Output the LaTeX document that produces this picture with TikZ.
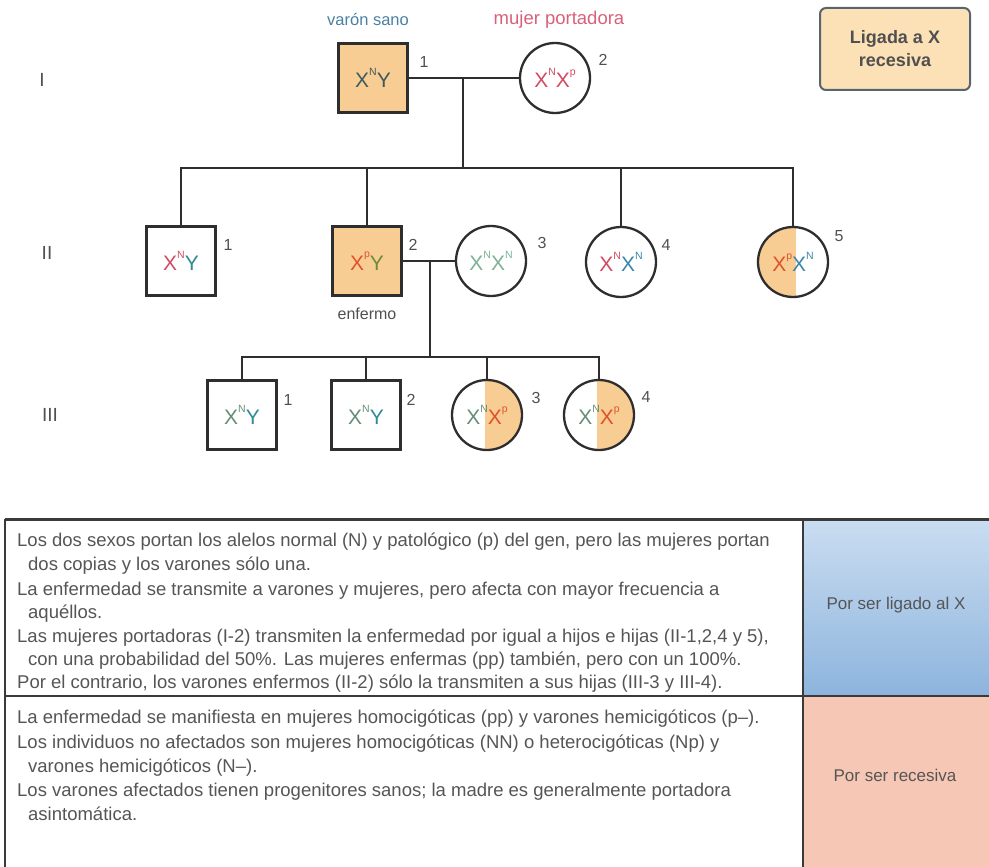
\documentclass[tikz,border=0pt]{standalone}
\usepackage{fontspec}
\setmainfont{Liberation Sans}
\usetikzlibrary{calc}
\definecolor{linec}{HTML}{2E2E2E}
\definecolor{affc}{HTML}{F8CD93}
\definecolor{numc}{HTML}{505050}
\definecolor{txtc}{HTML}{555555}
\definecolor{xred}{HTML}{D24A62}
\definecolor{xorange}{HTML}{E0522C}
\definecolor{xteal}{HTML}{2F8A96}
\definecolor{xblue}{HTML}{3A86A8}
\definecolor{xgreen}{HTML}{7DB295}
\definecolor{xolive}{HTML}{6E8A3C}
\definecolor{xdark}{HTML}{3F5A5E}
\definecolor{sanoc}{HTML}{4A80A4}
\definecolor{portc}{HTML}{D9607A}
\definecolor{legfill}{HTML}{FCE0B6}
\definecolor{legdraw}{HTML}{56666C}
\definecolor{blueTop}{HTML}{CADDF1}
\definecolor{blueBot}{HTML}{8DB4DD}
\definecolor{salmon}{HTML}{F6C7B5}
\definecolor{tabline}{HTML}{3A3A3A}
\newcommand\gsup[1]{\raisebox{0.6em}{\fontsize{10.5}{10.5}\selectfont #1}}
\begin{document}
\begin{tikzpicture}[x=1pt,y=-1pt,
  male/.style={rectangle,draw=linec,line width=2.3pt,minimum size=69pt,inner sep=0pt,
     font=\fontsize{21}{21}\selectfont},
  female/.style={circle,draw=linec,line width=2.3pt,minimum size=70pt,inner sep=0pt,
     font=\fontsize{21}{21}\selectfont},
  aff/.style={fill=affc},
  lefthalf/.style={path picture={\fill[affc] (path picture bounding box.north west) rectangle ([xshift=3pt]path picture bounding box.south);}},
  righthalf/.style={path picture={\fill[affc] ([xshift=-2pt]path picture bounding box.north) rectangle (path picture bounding box.south east);}},
  conn/.style={draw=linec,line width=2.3pt},
  num/.style={font=\fontsize{16}{16}\selectfont,text=numc},
  genlab/.style={font=\fontsize{19}{19}\selectfont,text=numc},
  tline/.style={anchor=base west,font=\fontsize{18.5}{18.5}\selectfont,text=txtc,inner sep=0pt},
  cellt/.style={font=\fontsize{17}{17}\selectfont,text=txtc}]
\useasboundingbox (0,0) rectangle (989,867);

% table backgrounds
\shade[top color=blueTop,bottom color=blueBot] (803,519) rectangle (989,696);
\fill[salmon] (803,696) rectangle (989,867);
\draw[tabline,line width=3pt] (5,519) -- (989,519);
\draw[tabline,line width=2.5pt] (5,696) -- (989,696);
\draw[tabline,line width=1.5pt] (5,519) -- (5,867);
\draw[tabline,line width=1.5pt] (803,519) -- (803,867);

% generation labels
\node[genlab] (gI) at (42,80) {I};
\node[genlab] (gII) at (47,253) {II};
\node[genlab] (gIII) at (50,415) {III};

% headers
\node[font=\fontsize{16.5}{16.5}\selectfont,text=sanoc] (hsano) at (368,20) {varón sano};
\node[font=\fontsize{18.5}{18.5}\selectfont,text=portc] (hport) at (559,20) {mujer portadora};

% legend box
\node[draw=legdraw,line width=2pt,fill=legfill,rounded corners=6pt,minimum width=150pt,minimum height=82pt,
      align=center,font=\fontsize{18}{23}\selectfont\bfseries,text=numc] (leg) at (895,49) {Ligada a X\\recesiva};

% generation I
\node[male,aff] (I1) at (373,78) {{\color{xdark}X\gsup{N}Y}};
\node[female] (I2) at (555,78) {{\color{xred}X\gsup{N}X\gsup{p}}};
\node[num] (nI1) at (424,62) {1};
\node[num] (nI2) at (603,60) {2};

% generation II
\node[male] (II1) at (181,261) {{\color{xred}X\gsup{N}}{\color{xteal}Y}};
\node[male,aff] (II2) at (367,261) {{\color{xorange}X\gsup{p}}{\color{xolive}Y}};
\node[female] (II3) at (491,261) {{\color{xgreen}X\gsup{N}X\gsup{N}}};
\node[female] (II4) at (621,262) {{\color{xred}X\gsup{N}}{\color{xblue}X\gsup{N}}};
\node[female,lefthalf] (II5) at (793,262) {{\color{xorange}X\gsup{p}}{\color{xblue}X\gsup{N}}};
\node[num] (nII1) at (228,245) {1};
\node[num] (nII2) at (413,245) {2};
\node[num] (nII3) at (542,243) {3};
\node[num] (nII4) at (666,245) {4};
\node[num] (nII5) at (839,236) {5};
\node[font=\fontsize{16}{16}\selectfont,text=numc] (enf) at (367,314) {enfermo};

% generation III
\node[male] (III1) at (242,415) {{\color{xgreen!80!black}X\gsup{N}}{\color{xteal}Y}};
\node[male] (III2) at (366,415) {{\color{xgreen!80!black}X\gsup{N}}{\color{xteal}Y}};
\node[female,righthalf] (III3) at (487,415) {{\color{xgreen!80!black}X\gsup{N}}{\color{xorange}X\gsup{p}}};
\node[female,righthalf] (III4) at (599,415) {{\color{xgreen!80!black}X\gsup{N}}{\color{xorange}X\gsup{p}}};
\node[num] (nIII1) at (288,400) {1};
\node[num] (nIII2) at (411,400) {2};
\node[num] (nIII3) at (536,398) {3};
\node[num] (nIII4) at (646,397) {4};

% connectors
\coordinate (m1) at (463,78);
\coordinate (s1) at (463,168);
\draw[conn] (I1.east) -- (I2.west);
\draw[conn] (m1) -- (s1);
\draw[conn] (II1.north) |- (s1) -| (II5.north);
\draw[conn] (II2.north) -- (II2.north |- s1);
\draw[conn] (II4.north) -- (II4.north |- s1);
\draw[conn] (II2.east) -- (II3.west);
\coordinate (m2) at (430,261);
\coordinate (s2) at (430,357);
\draw[conn] (m2) -- (s2);
\draw[conn] (III1.north) |- (s2) -| (III4.north);
\draw[conn] (III2.north) -- (III2.north |- s2);
\draw[conn] (III3.north) -- (III3.north |- s2);

% table text
\node[tline] (t1) at (17,546) {Los dos sexos portan los alelos normal (N) y patológico (p) del gen, pero las mujeres portan};
\node[tline] (t2) at (28,570) {dos copias y los varones sólo una.};
\node[tline] (t3) at (17,595) {La enfermedad se transmite a varones y mujeres, pero afecta con mayor frecuencia a};
\node[tline] (t4) at (28,618) {aquéllos.};
\node[tline] (t5) at (17,642) {Las mujeres portadoras (I-2) transmiten la enfermedad por igual a hijos e hijas (II-1,2,4 y 5),};
\node[tline] (t6) at (28,665) {con una probabilidad del 50\%. Las mujeres enfermas (pp) también, pero con un 100\%.};
\node[tline] (t7) at (17,688) {Por el contrario, los varones enfermos (II-2) sólo la transmiten a sus hijas (III-3 y III-4).};
\node[tline] (t8) at (17,723) {La enfermedad se manifiesta en mujeres homocigóticas (pp) y varones hemicigóticos (p–).};
\node[tline] (t9) at (17,748) {Los individuos no afectados son mujeres homocigóticas (NN) o heterocigóticas (Np) y};
\node[tline] (t10) at (28,772) {varones hemicigóticos (N–).};
\node[tline] (t11) at (17,796) {Los varones afectados tienen progenitores sanos; la madre es generalmente portadora};
\node[tline] (t12) at (28,820) {asintomática.};
\node[cellt] (c1) at (896,605) {Por ser ligado al X};
\node[cellt] (c2) at (895,775) {Por ser recesiva};
\end{tikzpicture}
\end{document}
